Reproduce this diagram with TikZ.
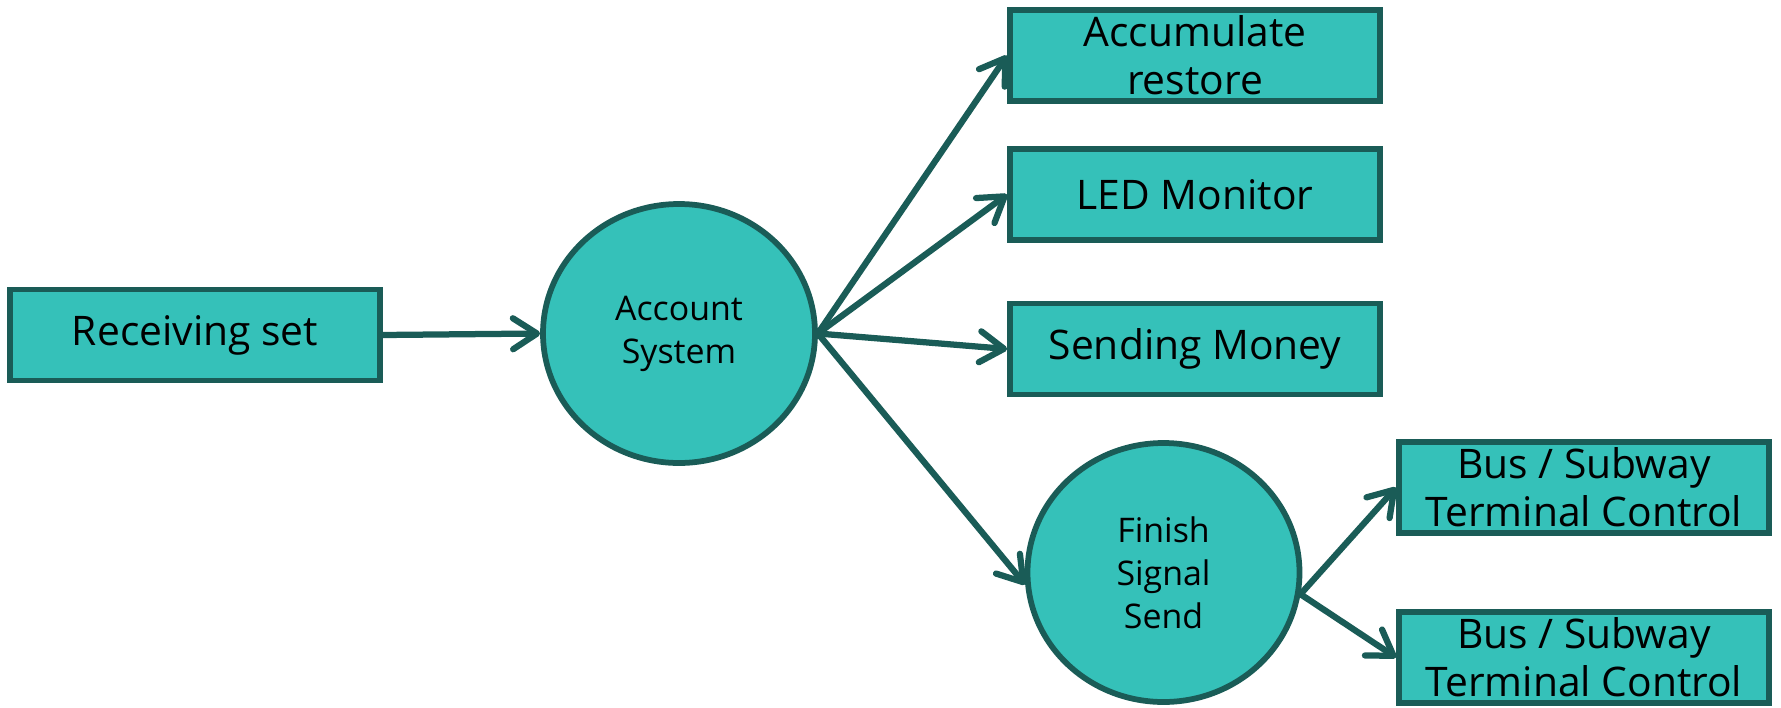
\documentclass[tikz,border=0pt]{standalone}
\usepackage{fontspec}
\setmainfont{Open Sans}
\usetikzlibrary{arrows.meta,shapes.geometric}
\definecolor{tealfill}{HTML}{35C1B9}
\definecolor{tealdark}{HTML}{1A5C57}
\begin{document}
\begin{tikzpicture}[
  box/.style={draw=tealdark, fill=tealfill, line width=0.115cm, minimum width=7.4cm, minimum height=1.82cm, inner sep=0pt, align=center, font=\fontsize{23.2pt}{27.2pt}\selectfont, text=black},
  oval/.style={ellipse, draw=tealdark, fill=tealfill, line width=0.115cm, minimum width=5.44cm, minimum height=5.18cm, inner sep=0pt, align=center, font=\fontsize{19.3pt}{24.4pt}\selectfont, text=black},
  conn/.style={draw=tealdark, line width=0.125cm, line cap=round, -{Straight Barb[length=0.48cm,width=0.62cm,round]}}
]
\useasboundingbox (0,0) rectangle (35.62,-14.14);
\node[box] (recv) at (3.9,-6.7) {Receiving set};
\node[oval] (sys) at (13.58,-6.67) {Account\\System};
\node[box] (accum) at (23.9,-1.11) {Accumulate\\restore};
\node[box] (led) at (23.9,-3.89) {LED Monitor};
\node[box] (send) at (23.9,-6.98) {Sending Money};
\node[oval] (fin) at (23.27,-11.45) {Finish\\Signal\\Send};
\node[box] (bus1) at (31.68,-9.75) {Bus / Subway\\Terminal Control};
\node[box] (bus2) at (31.68,-13.15) {Bus / Subway\\Terminal Control};
\draw[conn] (recv.east) -- (sys.west);
\draw[conn] (sys.east) -- (accum.west);
\draw[conn] (sys.east) -- (led.west);
\draw[conn] (sys.east) -- (send.west);
\draw[conn] (sys.east) -- (fin.185);
\draw[conn] (fin.-9) -- (bus1.west);
\draw[conn] (fin.-9) -- (bus2.west);
\end{tikzpicture}
\end{document}
